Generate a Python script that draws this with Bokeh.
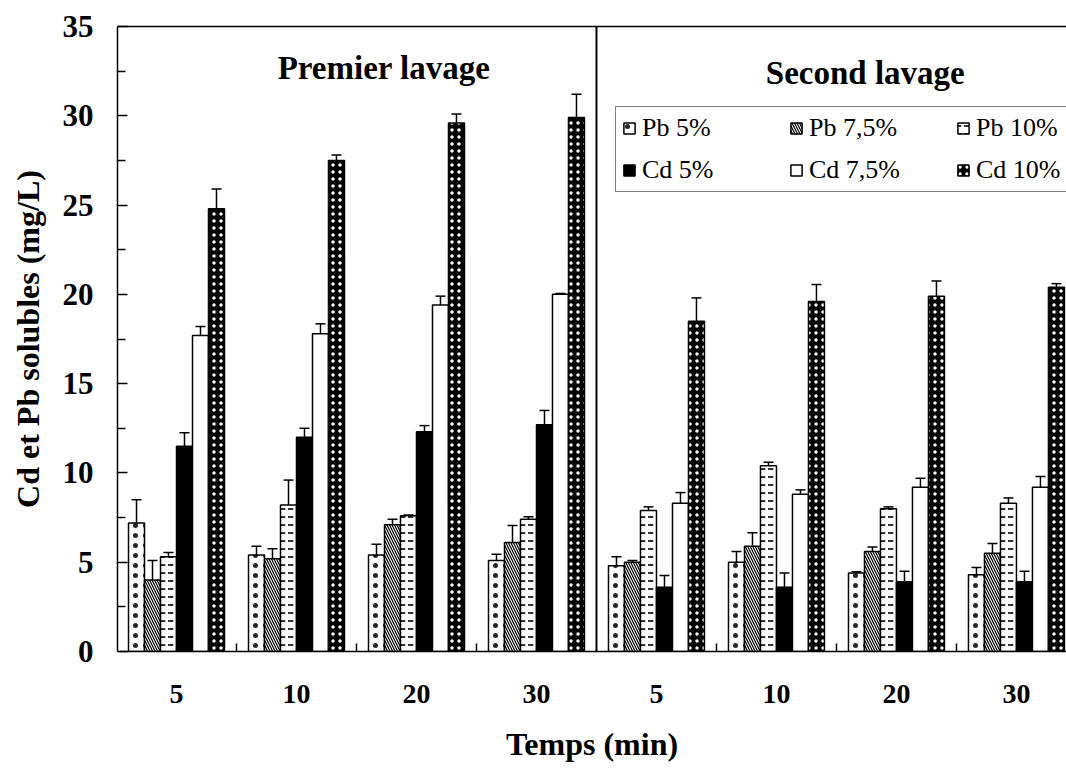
from bokeh.plotting import figure
from bokeh.models import (ColumnDataSource, Whisker, Span, Label, Legend, LegendItem,
                          FixedTicker, LinearAxis, TeeHead, Range1d)
from bokeh.embed import file_html
from bokeh.resources import INLINE

# ---------------- data ----------------
time_labels = ["5", "10", "20", "30", "5", "10", "20", "30"]
series_names = ["Pb 5%", "Pb 7,5%", "Pb 10%", "Cd 5%", "Cd 7,5%", "Cd 10%"]

pb5 = [7.2, 5.4, 5.4, 5.1, 4.8, 5.0, 4.4, 4.3]
pb5_err = [1.3, 0.5, 0.6, 0.35, 0.5, 0.6, 0.07, 0.4]
pb75 = [4.0, 5.2, 7.1, 6.1, 5.0, 5.9, 5.6, 5.5]
pb75_err = [1.1, 0.55, 0.3, 0.95, 0.1, 0.75, 0.25, 0.55]
pb10 = [5.3, 8.2, 7.6, 7.4, 7.9, 10.4, 8.0, 8.3]
pb10_err = [0.25, 1.4, 0.05, 0.15, 0.2, 0.2, 0.1, 0.3]
cd5 = [11.5, 12.0, 12.3, 12.7, 3.6, 3.6, 3.9, 3.9]
cd5_err = [0.75, 0.5, 0.35, 0.8, 0.65, 0.8, 0.6, 0.6]
cd75 = [17.7, 17.8, 19.4, 20.0, 8.3, 8.8, 9.2, 9.2]
cd75_err = [0.5, 0.55, 0.5, 0.05, 0.6, 0.25, 0.5, 0.6]
cd10 = [24.8, 27.5, 29.6, 29.9, 18.5, 19.6, 19.9, 20.4]
cd10_err = [1.1, 0.3, 0.5, 1.3, 1.3, 0.95, 0.85, 0.2]

values = [pb5, pb75, pb10, cd5, cd75, cd10]
errors = [pb5_err, pb75_err, pb10_err, cd5_err, cd75_err, cd10_err]

# ---------------- styles ----------------
FONT = "Liberation Serif"
styles = [
    dict(fill_color="white", hatch_pattern="dot", hatch_color="black", hatch_scale=10, hatch_weight=0.4, hatch_alpha=0.85),
    dict(fill_color="white", hatch_pattern="left_diagonal_line", hatch_color="black", hatch_scale=5, hatch_weight=1.2),
    dict(fill_color="white", hatch_pattern="horizontal_dash", hatch_color="black", hatch_scale=8, hatch_weight=1.6),
    dict(fill_color="black"),
    dict(fill_color="white"),
    dict(fill_color="black", hatch_pattern="dot", hatch_color="white", hatch_scale=7, hatch_weight=3),
]
bar_w = 0.1333

p = figure(width=1066, height=770, x_range=Range1d(-0.4917, 7.417), y_range=Range1d(0, 35),
           output_backend="svg", toolbar_location=None,
           min_border_left=117, min_border_right=0, min_border_top=26, min_border_bottom=119)
p.xgrid.visible = False
p.ygrid.visible = False
p.outline_line_color = None
p.background_fill_color = "white"

items = []
n = len(time_labels)
for k, (vals, errs, st) in enumerate(zip(values, errors, styles)):
    xs = [i + (k - 2.5) * bar_w for i in range(n)]
    src = ColumnDataSource(dict(x=xs, top=vals,
                                upper=[v + e for v, e in zip(vals, errs)],
                                lower=[v - e for v, e in zip(vals, errs)]))
    r = p.vbar(x="x", top="top", width=bar_w, source=src, line_color="black", line_width=1.5, **st)
    items.append(LegendItem(label=series_names[k], renderers=[r]))
    w = Whisker(source=src, base="x", upper="upper", lower="lower", line_color="black", line_width=1.5,
                upper_head=TeeHead(size=10, line_width=1.5, line_color="black"),
                lower_head=TeeHead(size=10, line_width=1.5, line_color="black"))
    p.add_layout(w)

# divider between the two washes
p.add_layout(Span(location=3.5, dimension="height", line_color="black", line_width=2))

# section titles
p.add_layout(Label(x=1.73, y=32.7, text="Premier lavage", text_align="center",
                   text_baseline="alphabetic", text_font=FONT, text_font_style="bold",
                   text_font_size="33px", text_color="black"))
p.add_layout(Label(x=5.74, y=32.4, text="Second lavage", text_align="center",
                   text_baseline="alphabetic", text_font=FONT, text_font_style="bold",
                   text_font_size="33px", text_color="black"))

# x axis
xa = p.xaxis[0]
xa.ticker = FixedTicker(ticks=list(range(n)), minor_ticks=[0.5, 1.5, 2.5, 4.5, 5.5, 6.5])
xa.major_label_overrides = {i: t for i, t in enumerate(time_labels)}
xa.major_tick_in = 0
xa.major_tick_out = 0
xa.minor_tick_in = 8
xa.minor_tick_out = 0
xa.minor_tick_line_width = 1.5
xa.minor_tick_line_color = "black"
xa.axis_line_width = 1.5
xa.axis_line_color = "black"
xa.major_label_standoff = 33
xa.major_label_text_font = FONT
xa.major_label_text_font_style = "bold"
xa.major_label_text_font_size = "28px"
xa.major_label_text_color = "black"
xa.axis_label = "Temps (min)"
xa.axis_label_text_font = FONT
xa.axis_label_text_font_style = "bold"
xa.axis_label_text_font_size = "32px"
xa.axis_label_text_color = "black"
xa.axis_label_standoff = 20

# y axis
ya = p.yaxis[0]
ya.ticker = FixedTicker(ticks=[0, 5, 10, 15, 20, 25, 30, 35],
                        minor_ticks=[2.5, 7.5, 12.5, 17.5, 22.5, 27.5, 32.5])
ya.major_tick_in = 10
ya.major_tick_out = 0
ya.minor_tick_in = 8
ya.minor_tick_out = 0
ya.major_tick_line_width = 1.5
ya.minor_tick_line_width = 1.5
ya.major_tick_line_color = "black"
ya.minor_tick_line_color = "black"
ya.axis_line_width = 1.5
ya.axis_line_color = "black"
ya.major_label_standoff = 24
ya.major_label_text_font = FONT
ya.major_label_text_font_style = "bold"
ya.major_label_text_font_size = "31px"
ya.major_label_text_color = "black"
ya.axis_label = "Cd et Pb solubles (mg/L)"
ya.axis_label_text_font = FONT
ya.axis_label_text_font_style = "bold"
ya.axis_label_text_font_size = "32px"
ya.axis_label_text_color = "black"
ya.axis_label_standoff = 14

# top border line
top = LinearAxis(ticker=FixedTicker(ticks=[]), axis_line_width=1.5, axis_line_color="black",
                 major_tick_in=0, major_tick_out=0, minor_tick_in=0, minor_tick_out=0)
p.add_layout(top, "above")

legend = Legend(items=items, orientation="horizontal", nrows=2, location=(498, 459),
                label_text_font=FONT, label_text_font_size="26px", label_text_color="black",
                glyph_width=14, glyph_height=14, label_width=135, label_height=28,
                label_standoff=6, spacing=12, padding=6, margin=0,
                border_line_color="black", border_line_width=1.5,
                background_fill_color="white", background_fill_alpha=1)
p.add_layout(legend)

open("out.html", "w").write(file_html(p, INLINE))
